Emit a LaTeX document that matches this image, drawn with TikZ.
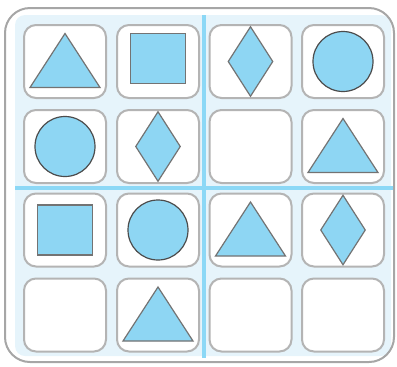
\documentclass[tikz,border=0pt]{standalone}
\usepackage{tikz}
\usetikzlibrary{positioning,shapes.geometric}
\definecolor{shapeblue}{HTML}{8ED6F3}
\definecolor{panelblue}{HTML}{E6F4FB}
\definecolor{lineblue}{HTML}{8CD8F6}
\definecolor{cellgrey}{HTML}{B4B4B4}
\newcommand{\tri}[1]{\draw[shp] ([shift={(0,-28)}]#1.center) -- ([shift={(35,26)}]#1.center) -- ([shift={(-35,26)}]#1.center) -- cycle;}

\begin{document}
\begin{tikzpicture}[
  x=0.5pt, y=-0.5pt,
  cell/.style={draw=cellgrey, line width=1pt, fill=white, rounded corners=6pt, minimum width=41pt, minimum height=36.5pt, inner sep=0pt},
  shp/.style={draw=black!55, fill=shapeblue, line width=0.6pt, inner sep=0pt},
  sq/.style={shp, rectangle, minimum width=27.5pt, minimum height=25pt},
  ring/.style={shp, circle, draw=black!70, minimum size=30pt},
  dia/.style={shp, diamond, minimum width=22.5pt, minimum height=35pt}
]
\useasboundingbox (0,0) rectangle (397,366);

% panel and dividers
\fill[panelblue, rounded corners=5pt] (15,15) rectangle (391,356);
\draw[lineblue, line width=2pt] (204,15) -- (204,358);
\draw[lineblue, line width=2pt] (15,188) -- (393,188);

% cells
\node[cell] (c11) at (65,61.5) {};
\node[cell] (c12) at (158,61.5) {};
\node[cell] (c13) at (250.5,61.5) {};
\node[cell] (c14) at (343,61.5) {};
\node[cell] (c21) at (65,146.5) {};
\node[cell] (c22) at (158,146.5) {};
\node[cell] (c23) at (250.5,146.5) {};
\node[cell] (c24) at (343,146.5) {};
\node[cell] (c31) at (65,230) {};
\node[cell] (c32) at (158,230) {};
\node[cell] (c33) at (250.5,230) {};
\node[cell] (c34) at (343,230) {};
\node[cell] (c41) at (65,315) {};
\node[cell] (c42) at (158,315) {};
\node[cell] (c43) at (250.5,315) {};
\node[cell] (c44) at (343,315) {};

% shapes
\tri{c11}
\node[sq] (s12) at ([shift={(0,-3)}]c12.center) {};
\node[dia] (d13) at (c13.center) {};
\node[ring] (r14) at (c14.center) {};
\node[ring] (r21) at (c21.center) {};
\node[dia] (d22) at (c22.center) {};
\tri{c24}
\node[sq] (s31) at (c31.center) {};
\node[ring] (r32) at (c32.center) {};
\tri{c33}
\node[dia] (d34) at (c34.center) {};
\tri{c42}

% outer frame
\draw[black!35, line width=1pt, rounded corners=12.5pt] (5,8) rectangle (394,362);
\end{tikzpicture}
\end{document}
